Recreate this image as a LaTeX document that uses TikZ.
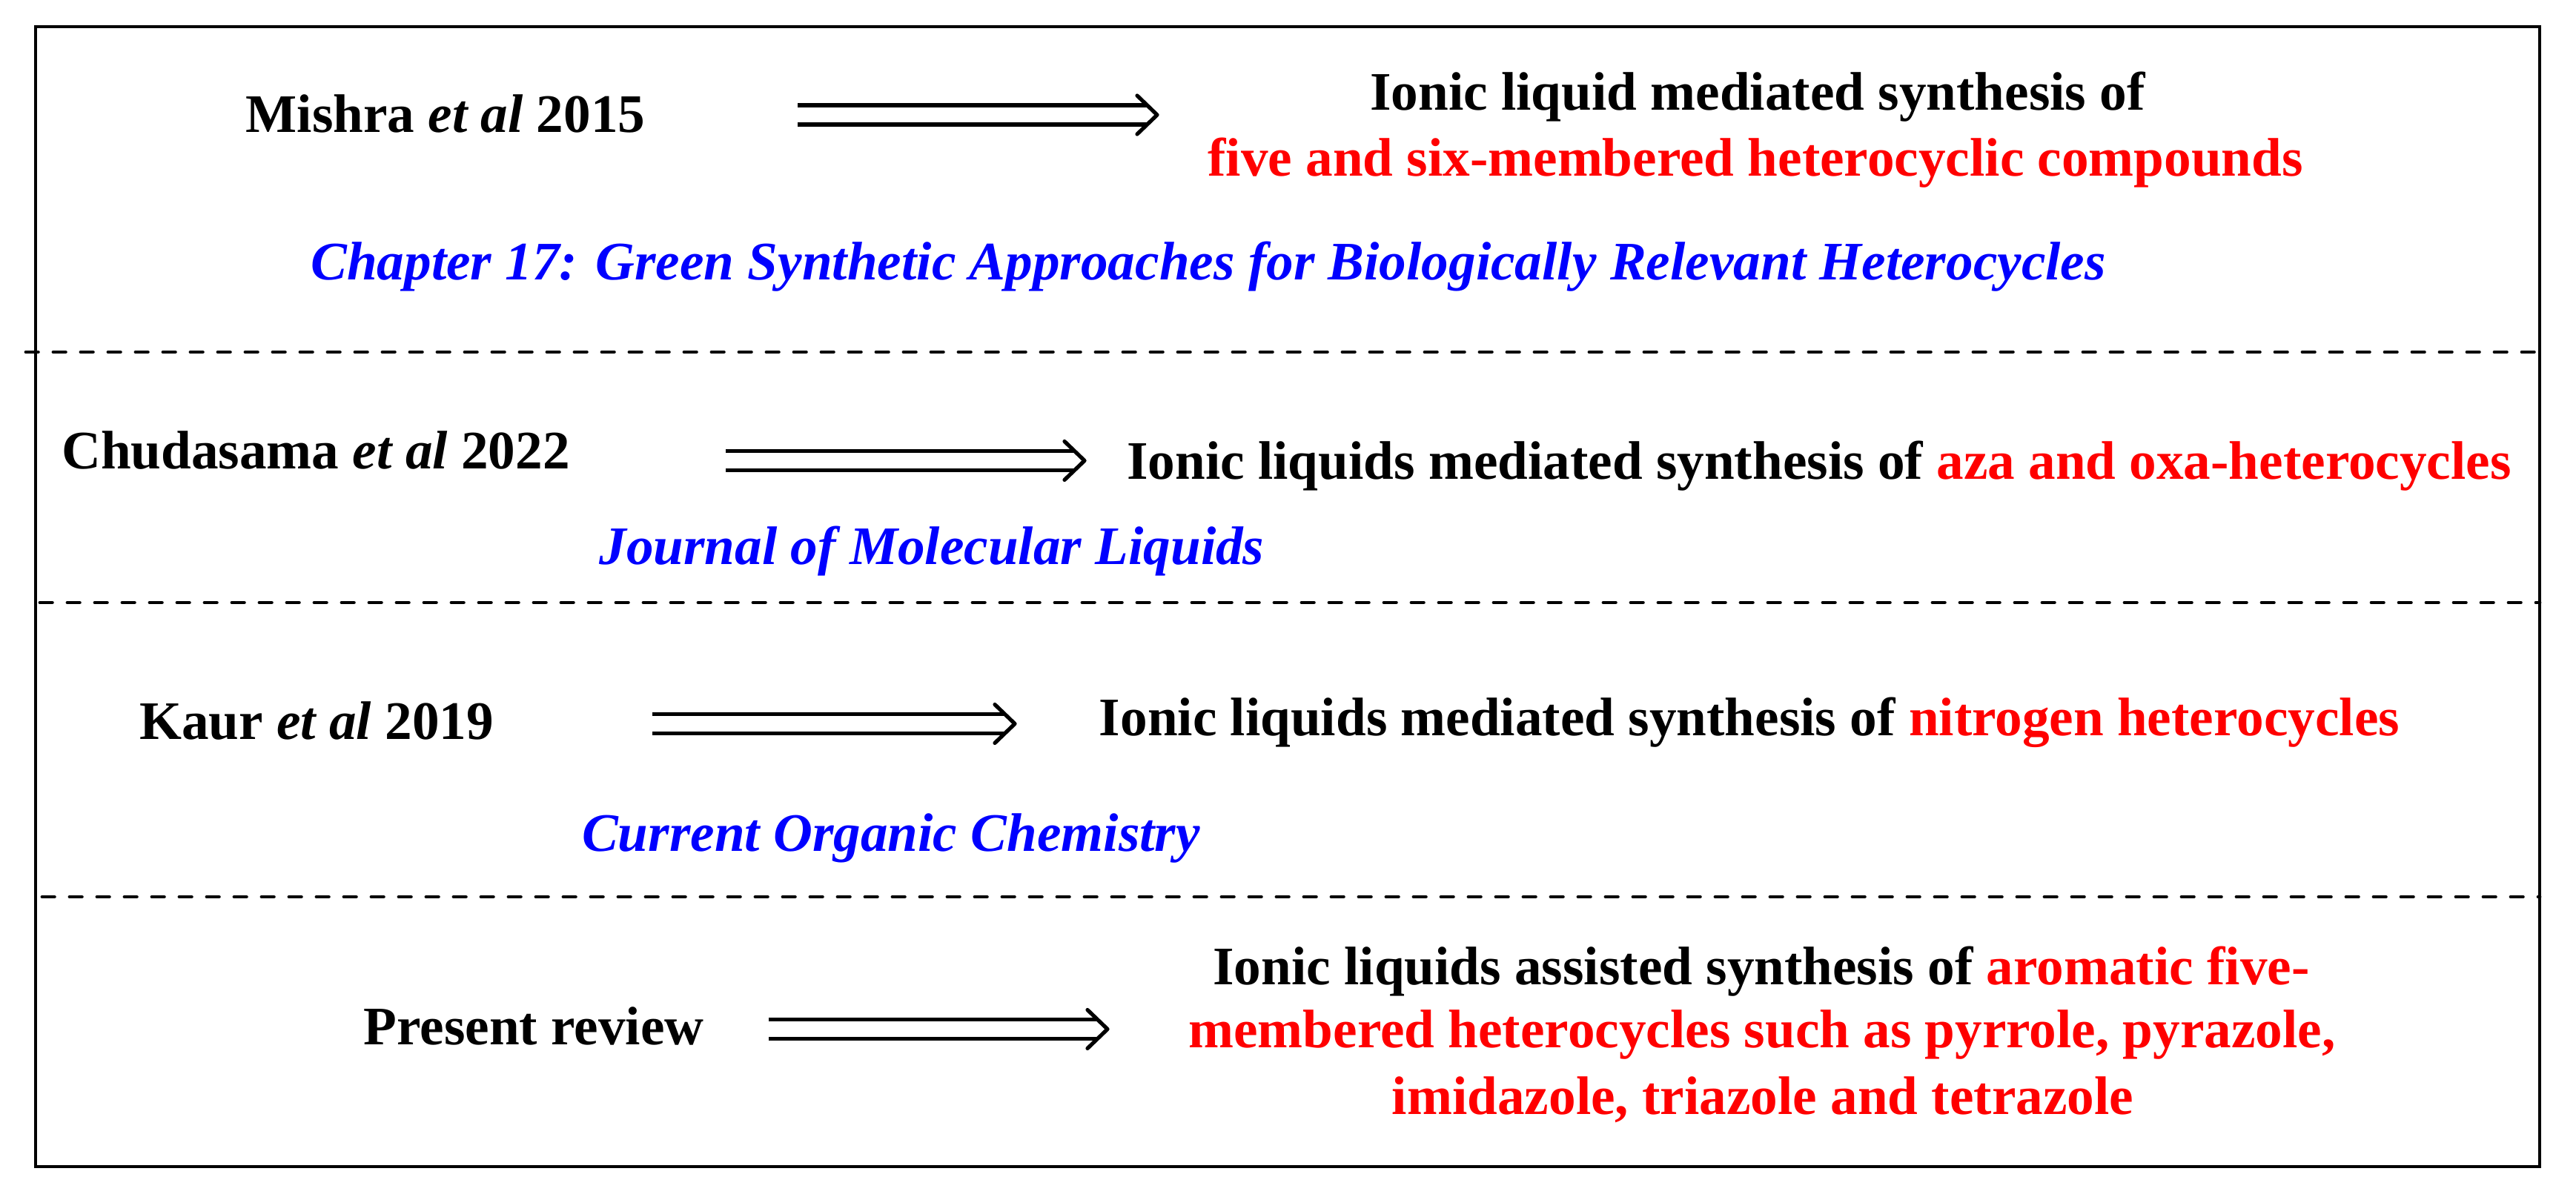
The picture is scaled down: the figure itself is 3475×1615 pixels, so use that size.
\documentclass[tikz,border=0pt]{standalone}
\usepackage{fontspec}
\setmainfont{Liberation Serif}
\usetikzlibrary{calc}
\definecolor{txtred}{RGB}{255,0,0}
\definecolor{txtblue}{RGB}{0,0,255}
\begin{document}
\begin{tikzpicture}[x=0.5pt,y=-0.5pt,
  every node/.style={inner sep=0pt, outer sep=0pt, anchor=base,
    font=\fontsize{36.6}{44}\selectfont\bfseries},
  ref/.style={text=txtblue, font=\fontsize{36.6}{44}\selectfont\bfseries\itshape},
  hl/.style={text=txtred},
  frame/.style={line width=2.4pt},
  sep/.style={line width=2.4pt, dash pattern=on 8.2pt off 10.3pt, line cap=round},
  dbl/.style={double, double distance=10.25pt, line width=2.75pt},
  chev/.style={line width=2.6pt, line cap=round, line join=round}]
\useasboundingbox (0,0) rectangle (3475,1615);

% frame and separators
\draw[frame] (48,36) rectangle (3426,1574);
\draw[sep] (35,475) -- (3426,475);
\draw[sep] (54,813) -- (3426,813);
\draw[sep] (57,1210) -- (3426,1210);

% block 1
\node (m1) at (601,179) {Mishra \textit{et al} 2015};
\node (r1a) at (2371,149) {Ionic liquid mediated synthesis of};
\node[hl] (r1b) at (2368,238) {five and six-membered heterocyclic compounds};
\node[ref] (j1) at (1630,378) {Chapter 17: Green Synthetic Approaches for Biologically Relevant Heterocycles};
\coordinate (a1s) at (1076,155);
\coordinate (a1e) at (1561,155);

% block 2
\node (m2) at (426,632) {Chudasama \textit{et al} 2022};
\node (r2) at (2454,646) {Ionic liquids mediated synthesis of \textcolor{txtred}{aza and oxa-heterocycles}};
\node[ref] (j2) at (1257,761) {Journal of Molecular Liquids};
\coordinate (a2s) at (979,621.5);
\coordinate (a2e) at (1463,621.5);

% block 3
\node (m3) at (427,997) {Kaur \textit{et al} 2019};
\node (r3) at (2360,992) {Ionic liquids mediated synthesis of \textcolor{txtred}{nitrogen heterocycles}};
\node[ref] (j3) at (1202,1148) {Current Organic Chemistry};
\coordinate (a3s) at (880,976.5);
\coordinate (a3e) at (1369,976.5);

% block 4
\node (m4) at (720,1409) {Present review};
\node (r4a) at (2376,1328) {Ionic liquids assisted synthesis of \textcolor{txtred}{aromatic five-}};
\node[hl] (r4b) at (2377,1413) {membered heterocycles such as pyrrole, pyrazole,};
\node[hl] (r4c) at (2378,1503) {imidazole, triazole and tetrazole};
\coordinate (a4s) at (1037,1388.5);
\coordinate (a4e) at (1494,1388.5);

% double arrows
\foreach \s/\e in {a1s/a1e,a2s/a2e,a3s/a3e,a4s/a4e}{
  \draw[dbl] (\s) -- ($(\e)+(-13,0)$);
  \draw[chev] ($(\e)+(-27,-26)$) -- (\e) -- ($(\e)+(-27,26)$);
}
\end{tikzpicture}
\end{document}
